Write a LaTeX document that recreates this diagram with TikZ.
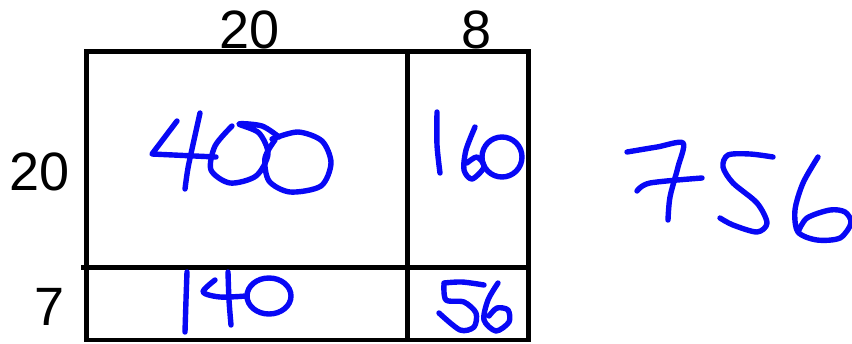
\documentclass[tikz,border=0pt]{standalone}
\usepackage{fontspec}
\setmainfont{Liberation Sans}
\begin{document}
\begin{tikzpicture}[x=1pt,y=-1pt,
  grid/.style={draw=black,line width=4.5pt},
  lab/.style={font=\fontsize{54}{54}\selectfont,inner sep=0pt},
  hand/.style={draw={rgb,255:red,8;green,8;blue,245},line width=5.4pt,line cap=round,line join=round}]
\useasboundingbox (0,0) rectangle (852,343);
\coordinate (tl) at (86.5,51.5);
\coordinate (tm) at (407.5,51.5);
\coordinate (tr) at (528.5,51.5);
\coordinate (ml) at (81,267.5);
\coordinate (mm) at (407.5,267.5);
\coordinate (mr) at (528.5,267.5);
\coordinate (bl) at (86.5,340);
\coordinate (bm) at (407.5,340);
\coordinate (br) at (528.5,340);
\draw[grid] (tl) rectangle (br);
\draw[grid] (tm) -- (bm);
\draw[grid] (ml) -- (mr);
% labels
\node[lab] (t20) at (250,30) {20};
\node[lab] (t8) at (477,30) {8};
\node[lab] (l20) at (40,172) {20};
\node[lab] (l7) at (50,307) {7};
% 400
\draw[hand] (177,121) -- (152,154) -- (216,157);
\draw[hand] plot[smooth] coordinates {(200,113) (194,140) (188,168) (185,189)};
\draw[hand] plot[smooth] coordinates {(232,126) (215,146) (211,170) (230,183) (256,176) (268,154) (259,133) (239,124) (262,126) (279,137)};
\draw[hand] plot[smooth] coordinates {(272,139) (298,132) (322,141) (331,163) (321,186) (290,192) (269,181) (265,158) (275,140)};
% 160
\draw[hand] plot[smooth] coordinates {(437,112) (437,145) (440,173)};
\draw[hand] plot[smooth] coordinates {(475,127) (466,150) (464,170) (472,179) (484,167) (477,157) (467,163)};
\draw[hand] (502,157) ellipse[x radius=20,y radius=20];
% 140
\draw[hand] plot[smooth] coordinates {(187,272) (186,300) (185,332)};
\draw[hand] plot[smooth] coordinates {(215,280) (203,292) (220,297) (246,296)};
\draw[hand] plot[smooth] coordinates {(228,272) (229,300) (231,325)};
\draw[hand] (269,296) ellipse[x radius=22,y radius=18];
% 56
\draw[hand] plot[smooth] coordinates {(484,285) (462,282) (444,283)};
\draw[hand] plot[smooth] coordinates {(444,284) (446,300) (464,302) (476,313) (474,327) (460,330) (439,313)};
\draw[hand] plot[smooth] coordinates {(498,283) (488,300) (484,320) (496,331) (509,322) (508,310) (497,308) (489,316)};
% 756
\draw[hand] plot[smooth] coordinates {(627,152) (657,147) (683,143) (678,167) (670,197) (668,220)};
\draw[hand] plot[smooth] coordinates {(637,191) (650,183) (702,178)};
\draw[hand] plot[smooth] coordinates {(773,157) (750,154) (728,155) (723,167) (733,183) (757,203) (767,223) (757,232) (733,225) (720,218)};
\draw[hand] plot[smooth] coordinates {(818,157) (803,183) (795,210) (798,232) (817,240) (840,238) (851,223) (845,212) (830,210) (807,218) (798,232)};
\end{tikzpicture}
\end{document}
